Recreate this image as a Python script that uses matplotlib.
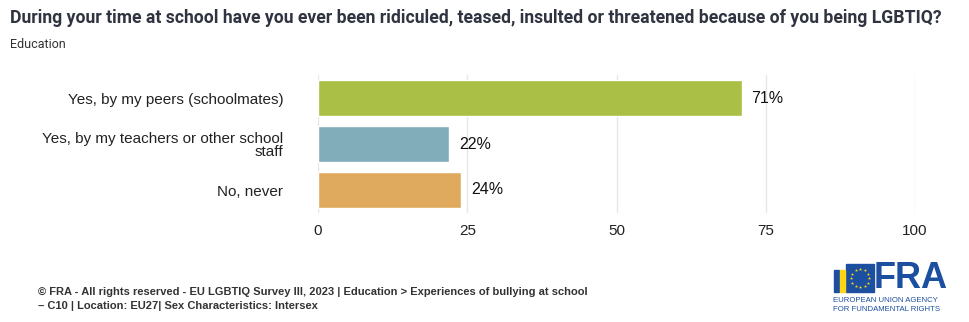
import matplotlib.pyplot as plt
import numpy as np

categories = ["Yes, by my peers (schoolmates)",
              "Yes, by my teachers or other school\nstaff",
              "No, never"]
values = [71, 22, 24]
bar_colors = ["#a9bf45", "#80adb9", "#e0aa5e"]
xticks = [0, 25, 50, 75, 100]

title = "During your time at school have you ever been ridiculed, teased, insulted or threatened because of you being LGBTIQ?"
subtitle = "Education"
source = ("\u00a9 FRA - All rights reserved - EU LGBTIQ Survey III, 2023 | Education > Experiences of bullying at school\n"
          "\u2013 C10 | Location: EU27| Sex Characteristics: Intersex")

fig = plt.figure(figsize=(9.69, 3.22), dpi=100)
ax = fig.add_axes([318 / 969, 1 - 213 / 322, 597 / 969, 138 / 322])

y = np.arange(len(categories))
ax.barh(y, values, height=0.78, color=bar_colors, edgecolor="white", linewidth=1, zorder=3)
for yi, v in zip(y, values):
    ax.text(v + 1.6, yi, f"{v}%", va="center", ha="left", fontsize=11.5,
            family="Liberation Sans", color="#111111")

ax.set_xlim(0, 100)
ax.set_ylim(2.5, -0.5)
ax.set_yticks(y)
ax.set_yticklabels(categories, fontsize=11, family="Liberation Sans", color="#222222", linespacing=0.95)
ax.set_xticks(xticks)
ax.set_xticklabels([str(t) for t in xticks], fontsize=11, family="Liberation Sans", color="#222222")
ax.tick_params(axis="both", length=0, pad=8)
ax.tick_params(axis="y", pad=25)
ax.grid(axis="x", color="#e6e6e6", linewidth=1, zorder=0)
for s in ax.spines.values():
    s.set_visible(False)

fig.text(10 / 969, 1 - 18 / 322, title, fontsize=12.7, fontweight="bold", family="Roboto",
         color="#2f3440", va="center")
fig.text(10 / 969, 1 - 44 / 322, subtitle, fontsize=9, family="Roboto", color="#333333", va="center")
fig.text(38 / 969, 1 - 299 / 322, source, fontsize=8, fontweight="bold", family="Liberation Sans",
         color="#333333", va="center", linespacing=1.45)

# logo approximation
lax = fig.add_axes([826 / 969, 1 - 318 / 322, 140 / 969, 56 / 322])
lax.set_xlim(0, 140)
lax.set_ylim(0, 56)
lax.axis("off")
lax.add_patch(plt.Rectangle((20, 26), 28, 28, color="#1c4fa0"))
ang = np.linspace(0, 2 * np.pi, 12, endpoint=False)
lax.scatter(34 + 9 * np.cos(ang), 40 + 9 * np.sin(ang), marker="*", s=6, color="#ffd617", lw=0)
lax.add_patch(plt.Rectangle((8, 26), 5, 22, color="#1c4fa0"))
lax.add_patch(plt.Rectangle((14, 26), 5, 22, color="#ffd617"))
lax.text(48, 40, "FRA", fontsize=26, fontweight="bold", family="Liberation Sans", color="#1c4fa0",
         va="center", ha="left")
lax.text(7, 13, "EUROPEAN UNION AGENCY\nFOR FUNDAMENTAL RIGHTS", fontsize=5.6, family="Liberation Sans",
         color="#1c4fa0", va="center", ha="left", linespacing=1.3)

fig.savefig("out.png", dpi=100)
